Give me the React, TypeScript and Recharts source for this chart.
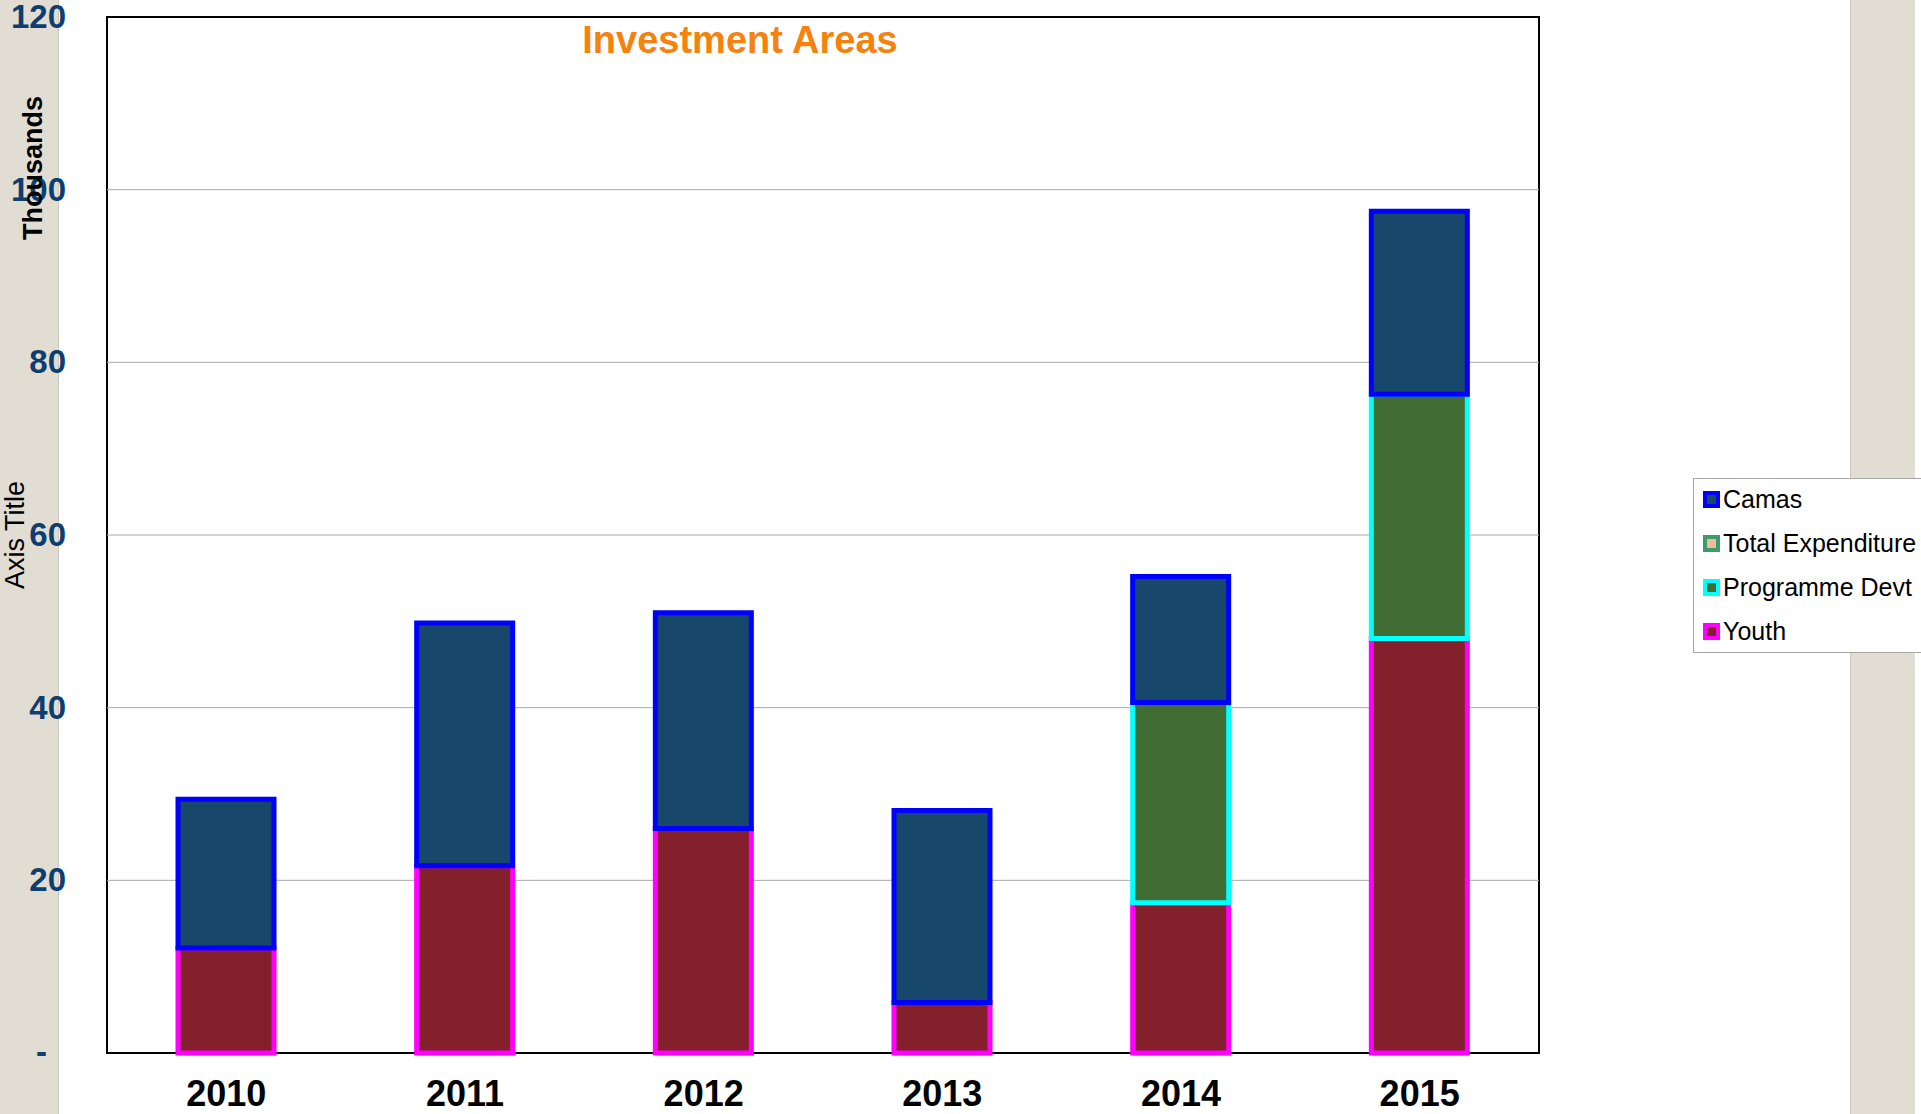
import React from 'react';
import { BarChart, Bar, XAxis, YAxis, CartesianGrid, Legend } from 'recharts';

// values in thousands
const years = ['2010', '2011', '2012', '2013', '2014', '2015'];
const youth = [12.15, 21.7, 26.0, 5.85, 17.4, 48.0];
const programmeDevt = [0, 0, 0, 0, 23.2, 28.3];
const totalExpenditure = [0, 0, 0, 0, 0, 0];
const camas = [17.25, 28.1, 25.0, 22.25, 14.6, 21.2];
const yTicks = [0, 20, 40, 60, 80, 100, 120];
const gridValues = [20, 40, 60, 80, 100];

const series = [
  { key: 'youth', name: 'Youth', fill: '#841F2C', stroke: '#FF00FF' },
  { key: 'programmeDevt', name: 'Programme Devt', fill: '#416D35', stroke: '#00FFFF' },
  { key: 'totalExpenditure', name: 'Total Expenditure', fill: '#F4B89A', stroke: '#3C9A6B' },
  { key: 'camas', name: 'Camas', fill: '#17476A', stroke: '#0000FF' },
];

const data = years.map((year, i) => ({
  year,
  youth: youth[i],
  programmeDevt: programmeDevt[i],
  totalExpenditure: totalExpenditure[i],
  camas: camas[i],
}));

const font = '"Liberation Sans", Arial, sans-serif';

const YTick = ({ y, payload }: any) => {
  const zero = payload.value === 0;
  return (
    <text x={zero ? 47 : 66} y={y} dy={zero ? 10 : 11} textAnchor="end" fontSize={33} fontWeight="bold" fill="#0E3D6F" fontFamily={font}>
      {zero ? '-' : payload.value}
    </text>
  );
};

const XTick = ({ x, y, payload }: any) => (
  <text x={x} y={y} dy={53} textAnchor="middle" fontSize={36} fontWeight="bold" fill="#000" fontFamily={font}>
    {payload.value}
  </text>
);

const LegendBox = () => (
  <div style={{ width: 240, height: 175, border: '1px solid #A6A6A6', background: '#fff', boxSizing: 'border-box', fontFamily: font }}>
    {[...series].reverse().map((s) => (
      <div key={s.key} style={{ height: 44, boxSizing: 'border-box', paddingBottom: 4, display: 'flex', alignItems: 'center', paddingLeft: 9 }}>
        <span style={{ display: 'inline-block', width: 17, height: 17, boxSizing: 'border-box', border: `4px solid ${s.stroke}`, background: s.fill, marginRight: 3 }} />
        <span style={{ fontSize: 25, color: '#000', whiteSpace: 'nowrap' }}>{s.name}</span>
      </div>
    ))}
  </div>
);

export default function App() {
  return (
    <div style={{ position: 'absolute', left: 0, top: 0, width: 1921, height: 1114, overflow: 'hidden', background: '#fff', fontFamily: font }}>
      <div style={{ position: 'absolute', left: 0, top: 0, width: 58, height: 1114, background: '#E2DDD3', borderRight: '1px solid #CDC8BE' }} />
      <div style={{ position: 'absolute', left: 1850, top: 0, width: 65, height: 1114, background: '#E2DDD3', borderLeft: '1px solid #CDC8BE', boxSizing: 'border-box' }} />
      <div style={{ position: 'absolute', left: 106, top: 16, width: 1434, height: 1038, border: '2px solid #000', boxSizing: 'border-box' }} />
      <div style={{ position: 'absolute', left: 0, top: 0 }}>
        <BarChart width={1921} height={1114} data={data} margin={{ top: 17, right: 382, bottom: 0, left: 0 }}>
          <CartesianGrid vertical={false} stroke="#A9A9A9" horizontalValues={gridValues} />
          <XAxis dataKey="year" height={61} axisLine={false} tickLine={false} tickSize={0} tickMargin={0} tick={<XTick />} interval={0} />
          <YAxis width={107} domain={[0, 120]} ticks={yTicks} interval={0} axisLine={false} tickLine={false} tickSize={0} tickMargin={0} tick={<YTick />} />
          <Legend layout="vertical" align="center" verticalAlign="middle" content={<LegendBox />} wrapperStyle={{ left: 1693, top: 478, width: 240, height: 175 }} />
          {series.map((s) => (
            <Bar key={s.key} dataKey={s.key} name={s.name} stackId="a" fill={s.fill} stroke={s.stroke} strokeWidth={5} barSize={96} isAnimationActive={false} />
          ))}
        </BarChart>
      </div>
      <div style={{ position: 'absolute', left: 540, top: 22, width: 400, textAlign: 'center', fontSize: 38, lineHeight: '37px', fontWeight: 'bold', color: '#F5820D' }}>
        Investment Areas
      </div>
      <div style={{ position: 'absolute', left: 33, top: 168, transform: 'translate(-50%, -50%) rotate(-90deg)', whiteSpace: 'nowrap', lineHeight: 1, fontSize: 27, fontWeight: 'bold', color: '#000' }}>
        Thousands
      </div>
      <div style={{ position: 'absolute', left: 15, top: 535, transform: 'translate(-50%, -50%) rotate(-90deg)', whiteSpace: 'nowrap', lineHeight: 1, fontSize: 27, color: '#000' }}>
        Axis Title
      </div>
    </div>
  );
}
